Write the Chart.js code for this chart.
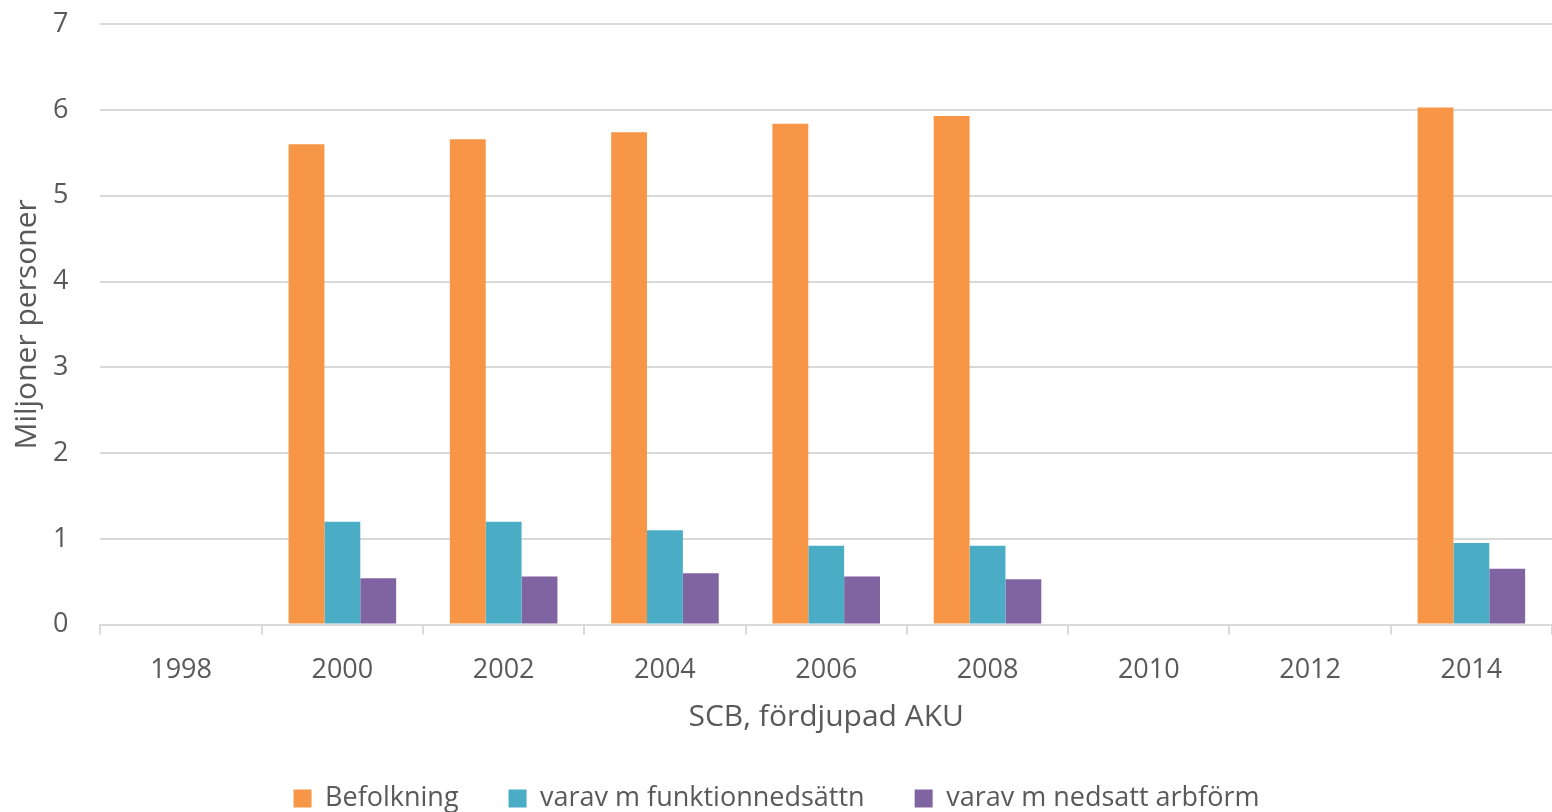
<!DOCTYPE html>
<html>

<head>
  <meta charset="UTF-8" />
  <title>Befolkning och funktionsnedsättning</title>
  <script src="https://cdn.jsdelivr.net/npm/chart.js"></script>
  <style>
    html, body { margin: 0; padding: 0; background: #fff; }
    .wrap { position: relative; width: 1552px; height: 812px; }
  </style>
</head>

<body>
  <div class="wrap">
    <canvas id="chart"></canvas>
  </div>
  <script>
    // data (miljoner personer)
    const years = ["1998", "2000", "2002", "2004", "2006", "2008", "2010", "2012", "2014"];
    const befolkning = [null, 5.60, 5.66, 5.74, 5.84, 5.93, null, null, 6.03];
    const funktionsnedsattning = [null, 1.20, 1.20, 1.10, 0.92, 0.92, null, null, 0.95];
    const nedsattArbform = [null, 0.54, 0.56, 0.60, 0.56, 0.53, null, null, 0.65];
    const yTicks = [0, 1, 2, 3, 4, 5, 6, 7];

    const textColor = "#595959";
    const gridColor = "#d9d9d9";
    const font = "'Open Sans', 'Liberation Sans', sans-serif";

    // legend padding gives the wide gap between items, but keep the box itself short
    const legendHeight = {
      id: "legendHeight",
      beforeInit(chart) {
        const legend = chart.legend;
        const fit = legend.fit;
        legend.fit = function () {
          fit.call(this);
          this.height = 77;
        };
      },
    };

    const ctx = document.getElementById("chart").getContext("2d");

    new Chart(ctx, {
      type: "bar",
      data: {
        labels: years,
        datasets: [
          { label: "Befolkning", data: befolkning, backgroundColor: "#f79646" },
          { label: "varav m funktionnedsättn", data: funktionsnedsattning, backgroundColor: "#4bacc6" },
          { label: "varav m nedsatt arbförm", data: nedsattArbform, backgroundColor: "#8064a2" },
        ],
      },
      plugins: [legendHeight],
      options: {
        responsive: true,
        maintainAspectRatio: false,
        animation: false,
        layout: { padding: { top: 0, right: 0, left: 1, bottom: 0 } },
        datasets: {
          bar: { categoryPercentage: 0.667, barPercentage: 1.0 },
        },
        plugins: {
          tooltip: { enabled: false },
          legend: {
            position: "bottom",
            labels: {
              color: textColor,
              font: { family: font, size: 27 },
              boxWidth: 18,
              boxHeight: 18,
              padding: 50,
            },
          },
        },
        scales: {
          x: {
            grid: {
              offset: true,
              drawOnChartArea: false,
              color: gridColor,
              lineWidth: 2,
              tickLength: 10,
            },
            border: { color: gridColor, width: 2 },
            ticks: { color: textColor, font: { family: font, size: 27 }, padding: 20 },
            title: {
              display: true,
              text: "SCB, fördjupad AKU",
              color: textColor,
              font: { family: font, size: 30 },
              padding: { top: -8, bottom: 0 },
            },
          },
          y: {
            min: 0,
            max: 7,
            afterBuildTicks: (axis) => { axis.ticks = yTicks.map((v) => ({ value: v })); },
            grid: { color: gridColor, lineWidth: 2, tickLength: 24, tickColor: "rgba(0,0,0,0)" },
            border: { display: false },
            ticks: { color: textColor, font: { family: font, size: 27 }, padding: 8 },
            title: {
              display: true,
              text: "Miljoner personer",
              color: textColor,
              font: { family: font, size: 30 },
              padding: { top: 8, bottom: 0 },
            },
          },
        },
      },
    });
  </script>
</body>

</html>
